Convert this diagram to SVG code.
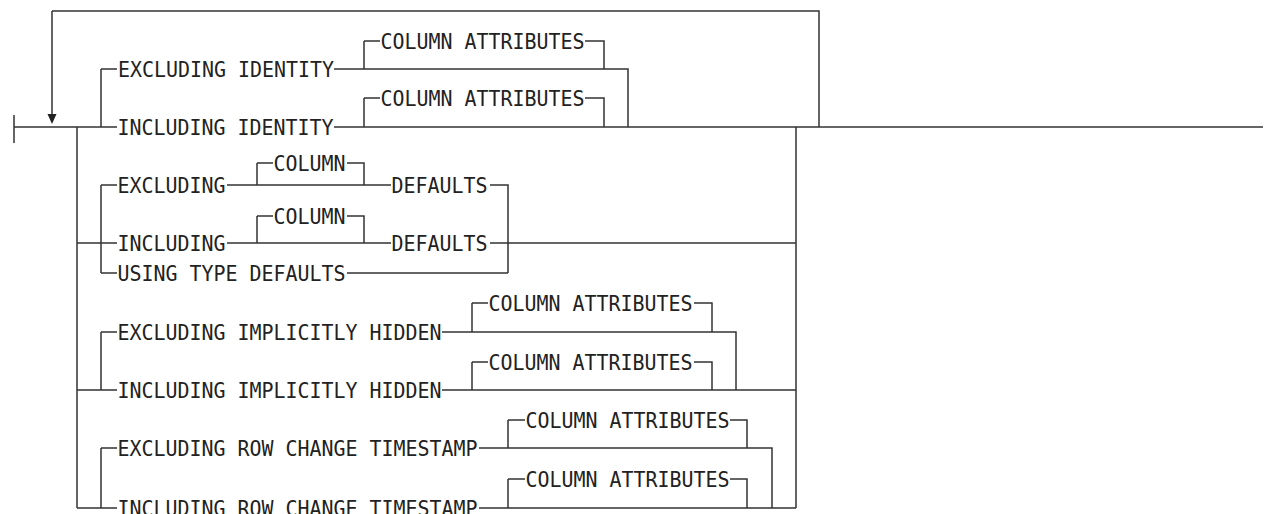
<svg xmlns="http://www.w3.org/2000/svg" width="1264" height="514" viewBox="0 0 1264 514">
<style>
.t{font-family:"DejaVu Sans Mono","Liberation Mono",monospace;font-size:21px;fill:#222;}
.c{fill:none;stroke:#333;stroke-width:1.5;}
</style>
<rect width="1264" height="514" fill="#fff"/>
<g id="connectors">
<path class="c" d="M14 115V143 M14 127H117 M334 127H1263 M52 11V114 M52 11H819V127"/>
<polygon points="47.5,114 56.5,114 52,124" fill="#222"/>
<path class="c" d="M101 69V127 M101 69H117 M334 69H628V127 M364 41V69 M364 41H380 M585 41H604V69 M364 98V127 M364 98H380 M585 98H604V127"/>
<path class="c" d="M77 127V508 M796 127V508"/>
<path class="c" d="M77 243H117 M227 243H391 M490 243H796 M101 185V273 M101 185H117 M227 185H391 M490 185H508V273 M101 273H117 M347 273H508 M257 163V185 M257 163H273 M347 163H364V185 M257 216V243 M257 216H273 M347 216H364V243"/>
<path class="c" d="M77 390H117 M442 390H796 M101 332V390 M101 332H117 M442 332H736V390 M472 303V332 M472 303H488 M694 303H712V332 M472 362V390 M472 362H488 M694 362H712V390"/>
<path class="c" d="M77 508H117 M479 508H796 M101 448V508 M101 448H117 M479 448H772V508 M508 420V448 M508 420H525 M730 420H747V448 M508 479V508 M508 479H525 M730 479H747V508"/>
</g>
<g id="n-excl-identity"><text class="t" x="118" y="76.5" textLength="216" lengthAdjust="spacingAndGlyphs">EXCLUDING IDENTITY</text></g>
<g id="n-colattr-1"><text class="t" x="380.5" y="48.5" textLength="204" lengthAdjust="spacingAndGlyphs">COLUMN ATTRIBUTES</text></g>
<g id="n-incl-identity"><text class="t" x="117.5" y="134.5" textLength="216" lengthAdjust="spacingAndGlyphs">INCLUDING IDENTITY</text></g>
<g id="n-colattr-2"><text class="t" x="380.5" y="105.5" textLength="204" lengthAdjust="spacingAndGlyphs">COLUMN ATTRIBUTES</text></g>
<g id="n-excluding"><text class="t" x="117.5" y="192.5" textLength="108" lengthAdjust="spacingAndGlyphs">EXCLUDING</text></g>
<g id="n-column-1"><text class="t" x="273.5" y="170.5" textLength="72" lengthAdjust="spacingAndGlyphs">COLUMN</text></g>
<g id="n-defaults-1"><text class="t" x="391.5" y="192.5" textLength="96" lengthAdjust="spacingAndGlyphs">DEFAULTS</text></g>
<g id="n-including"><text class="t" x="117.5" y="250.5" textLength="108" lengthAdjust="spacingAndGlyphs">INCLUDING</text></g>
<g id="n-column-2"><text class="t" x="273.5" y="223.5" textLength="72" lengthAdjust="spacingAndGlyphs">COLUMN</text></g>
<g id="n-defaults-2"><text class="t" x="391.5" y="250.5" textLength="96" lengthAdjust="spacingAndGlyphs">DEFAULTS</text></g>
<g id="n-using-type"><text class="t" x="117.5" y="280.5" textLength="228" lengthAdjust="spacingAndGlyphs">USING TYPE DEFAULTS</text></g>
<g id="n-excl-hidden"><text class="t" x="117.5" y="339.5" textLength="324" lengthAdjust="spacingAndGlyphs">EXCLUDING IMPLICITLY HIDDEN</text></g>
<g id="n-colattr-3"><text class="t" x="488.5" y="310.5" textLength="204" lengthAdjust="spacingAndGlyphs">COLUMN ATTRIBUTES</text></g>
<g id="n-incl-hidden"><text class="t" x="117.5" y="397.5" textLength="324" lengthAdjust="spacingAndGlyphs">INCLUDING IMPLICITLY HIDDEN</text></g>
<g id="n-colattr-4"><text class="t" x="488.5" y="369.5" textLength="204" lengthAdjust="spacingAndGlyphs">COLUMN ATTRIBUTES</text></g>
<g id="n-excl-rct"><text class="t" x="117.5" y="455.5" textLength="360" lengthAdjust="spacingAndGlyphs">EXCLUDING ROW CHANGE TIMESTAMP</text></g>
<g id="n-colattr-5"><text class="t" x="525.5" y="427.5" textLength="204" lengthAdjust="spacingAndGlyphs">COLUMN ATTRIBUTES</text></g>
<g id="n-incl-rct"><text class="t" x="117.5" y="515.5" textLength="360" lengthAdjust="spacingAndGlyphs">INCLUDING ROW CHANGE TIMESTAMP</text></g>
<g id="n-colattr-6"><text class="t" x="525.5" y="486.5" textLength="204" lengthAdjust="spacingAndGlyphs">COLUMN ATTRIBUTES</text></g>
</svg>
